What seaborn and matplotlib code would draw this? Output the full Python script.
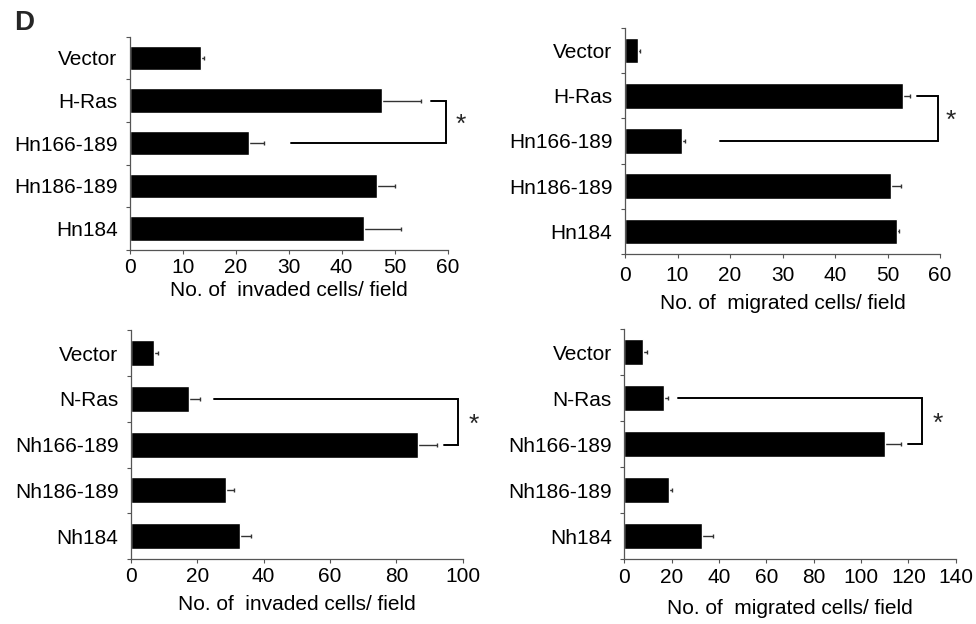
import numpy as np
import pandas as pd
import matplotlib
matplotlib.use("Agg")
import matplotlib.pyplot as plt
import seaborn as sns

sns.set_theme(style="white")
plt.rcParams['font.family'] = ['Liberation Sans', 'DejaVu Sans']

# ---------------- data ----------------
h_labels = ["Vector", "H-Ras", "Hn166-189", "Hn186-189", "Hn184"]
n_labels = ["Vector", "N-Ras", "Nh166-189", "Nh186-189", "Nh184"]

h_invaded = [13.4, 47.6, 22.4, 46.6, 44.2]
h_invaded_err = [0.5, 7.4, 2.9, 3.4, 7.1]
h_migrated = [2.5, 53.0, 10.9, 50.7, 51.9]
h_migrated_err = [0.4, 1.2, 0.6, 1.9, 0.3]

n_invaded = [6.9, 17.5, 86.4, 28.6, 32.9]
n_invaded_err = [1.3, 3.3, 5.9, 2.5, 3.2]
n_migrated = [7.8, 16.8, 110.1, 19.0, 33.0]
n_migrated_err = [1.7, 1.8, 6.7, 1.3, 4.6]

x_ticks_top = [0, 10, 20, 30, 40, 50, 60]
x_ticks_bl = [0, 20, 40, 60, 80, 100]
x_ticks_br = [0, 20, 40, 60, 80, 100, 120, 140]

xlabel_inv = "No. of  invaded cells/ field"
xlabel_mig = "No. of  migrated cells/ field"

W, H = 976, 624
fig = plt.figure(figsize=(W / 100, H / 100), dpi=100)


def px_axes(x0, y0, x1, y1):
    return fig.add_axes([x0 / W, 1 - y1 / H, (x1 - x0) / W, (y1 - y0) / H])


panels = [
    dict(box=(130, 36.5, 447.5, 250), labels=h_labels, vals=h_invaded, errs=h_invaded_err,
         ticks=x_ticks_top, xlabel=xlabel_inv, tpad=2.5, lpad=3.5,
         brk=dict(i=1, j=2, x_i=56.9, x_j=30.4, xv=59.7, star=62.5)),
    dict(box=(625, 28, 940, 254), labels=h_labels, vals=h_migrated, errs=h_migrated_err,
         ticks=x_ticks_top, xlabel=xlabel_mig, tpad=5.5, lpad=6.5,
         brk=dict(i=1, j=2, x_i=55.7, x_j=18.1, xv=59.7, star=62.0)),
    dict(box=(131, 330.3, 462.7, 559), labels=n_labels, vals=n_invaded, errs=n_invaded_err,
         ticks=x_ticks_bl, xlabel=xlabel_inv, tpad=3, lpad=6.5,
         brk=dict(i=1, j=2, x_i=25.0, x_j=94.4, xv=98.5, star=103.2)),
    dict(box=(624.3, 329.3, 955.7, 559.3), labels=n_labels, vals=n_migrated, errs=n_migrated_err,
         ticks=x_ticks_br, xlabel=xlabel_mig, tpad=3.5, lpad=8.5,
         brk=dict(i=1, j=2, x_i=22.6, x_j=119.7, xv=125.6, star=132.6)),
]

spine_col = "#555555"
for p in panels:
    ax = px_axes(*p["box"])
    df = pd.DataFrame({"cat": p["labels"], "val": p["vals"]})
    sns.barplot(data=df, x="val", y="cat", orient="h", color="black", width=0.57,
                saturation=1, errorbar=None, ax=ax, zorder=2)
    ypos = np.arange(len(p["labels"]))
    ax.errorbar(p["vals"], ypos, xerr=p["errs"], fmt="none",
                ecolor="#333333", elinewidth=1.0, capsize=1.6, capthick=1.0, zorder=1)
    ax.set_xlim(p["ticks"][0], p["ticks"][-1])
    ax.set_ylim(len(ypos) - 0.5, -0.5)
    ax.set_xticks(p["ticks"])
    ax.set_xticklabels([str(t) for t in p["ticks"]])
    ax.set_yticks(ypos)
    ax.set_yticklabels(p["labels"])
    ax.set_yticks(np.arange(len(ypos) + 1) - 0.5, minor=True)
    ax.tick_params(axis="y", which="major", length=0, pad=9, labelsize=15, colors="black")
    ax.tick_params(axis="y", which="minor", length=3, width=0.8, color=spine_col, left=True)
    ax.tick_params(axis="x", which="major", length=3, width=0.8, color=spine_col,
                   pad=p["tpad"], labelsize=15, labelcolor="black", bottom=True)
    ax.set_xlabel(p["xlabel"], fontsize=15, labelpad=p["lpad"], color="black")
    ax.set_ylabel("")
    for s in ["top", "right"]:
        ax.spines[s].set_visible(False)
    for s in ["left", "bottom"]:
        ax.spines[s].set_color(spine_col)
        ax.spines[s].set_linewidth(0.9)
    b = p["brk"]
    ax.plot([b["x_i"], b["xv"], b["xv"], b["x_j"]], [b["i"], b["i"], b["j"], b["j"]],
            color="black", lw=1.4, clip_on=False, solid_joinstyle="miter")
    ax.annotate("*", xy=(b["star"], (b["i"] + b["j"]) / 2), xytext=(0, -2),
                textcoords="offset points", fontsize=19, ha="center", va="center",
                annotation_clip=False)

fig.text(14 / W, 1 - 23.5 / H, "D", fontsize=20, fontweight="bold", ha="left", va="center")

fig.savefig("out.png", dpi=100)
